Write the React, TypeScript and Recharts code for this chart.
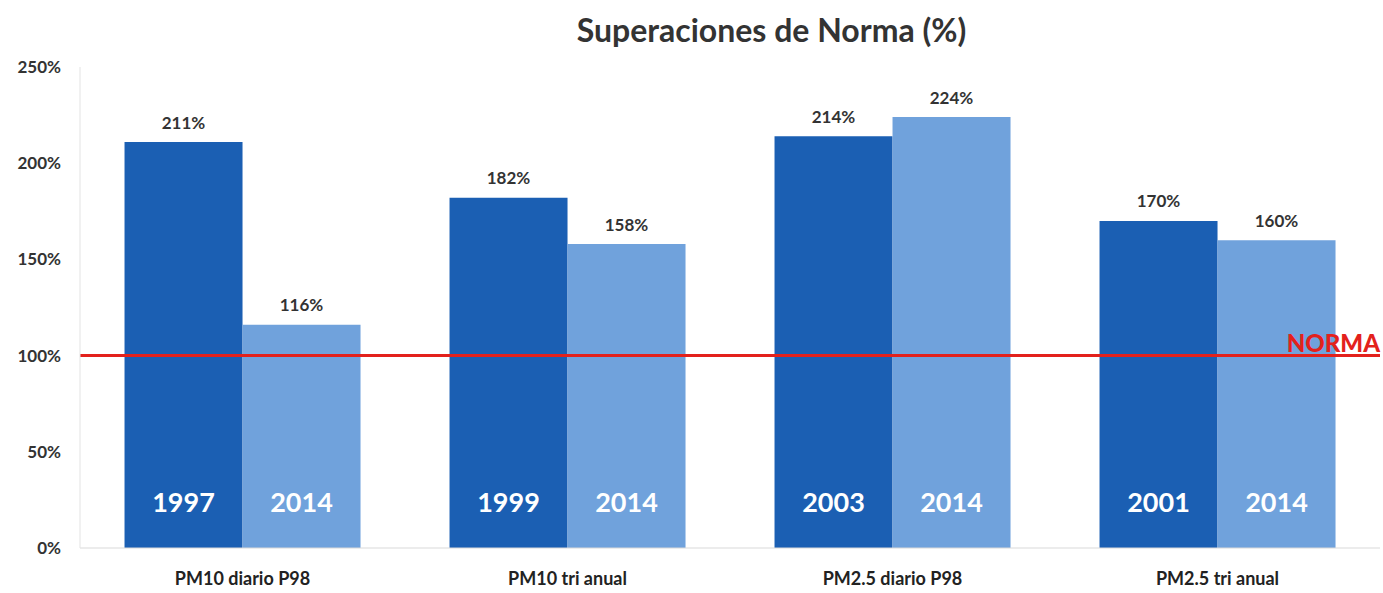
import React from "react";
import { BarChart, Bar, XAxis, YAxis, ReferenceLine, LabelList } from "recharts";

const categories = ["PM10 diario P98", "PM10  tri anual", "PM2.5 diario P98", "PM2.5  tri anual"];
const firstValues = [211, 182, 214, 170];
const recentValues = [116, 158, 224, 160];
const firstYears = ["1997", "1999", "2003", "2001"];
const recentYears = ["2014", "2014", "2014", "2014"];
const yTicks = [0, 50, 100, 150, 200, 250];
const normaValue = 100;

const data = categories.map((c, i) => ({
  name: c,
  first: firstValues[i],
  recent: recentValues[i],
  firstYear: firstYears[i],
  recentYear: recentYears[i],
}));

const FONT = "Lato, 'Open Sans', sans-serif";

const YearLabel = (props: any) => {
  const { x, y, width, height, value } = props;
  return (
    <text
      x={x + width / 2}
      y={y + height - 47}
      textAnchor="middle"
      dominantBaseline="central"
      fill="#ffffff"
      fontFamily={FONT}
      fontWeight={700}
      fontSize={27}
    >
      {value}
    </text>
  );
};

const TopLabel = (props: any) => {
  const { x, y, width, value } = props;
  return (
    <text
      x={x + width / 2}
      y={y - 20}
      textAnchor="middle"
      dominantBaseline="central"
      fill="#333333"
      fontFamily={FONT}
      fontWeight={700}
      fontSize={17}
    >
      {value}%
    </text>
  );
};

const NormaLabel = (props: any) => {
  const { viewBox } = props;
  return (
    <text
      x={viewBox.x + viewBox.width}
      y={viewBox.y - 13}
      textAnchor="end"
      dominantBaseline="central"
      fill="#e3211c"
      fontFamily={FONT}
      fontWeight={900}
      fontSize={24}
    >
      NORMA
    </text>
  );
};

export default function App() {
  return (
    <div style={{ position: "absolute", left: 0, top: 0, width: 1383, height: 593, background: "#fff" }}>
      <div
        style={{
          position: "absolute",
          left: 0,
          top: 10,
          width: 1383,
          paddingLeft: 160,
          boxSizing: "border-box",
          textAlign: "center",
          fontFamily: FONT,
          fontWeight: 700,
          fontSize: 32,
          color: "#333",
        }}
      >
        Superaciones de Norma (%)
      </div>
      <BarChart
        width={1383}
        height={593}
        data={data}
        margin={{ top: 67, right: 3, bottom: 0, left: 0 }}
        barGap={0}
        barCategoryGap="13.7%"
      >
        <XAxis
          dataKey="name"
          height={45}
          axisLine={{ stroke: "#d9d9d9" }}
          tickLine={false}
          tickMargin={18}
          tick={{ fill: "#222", fontFamily: FONT, fontWeight: 700, fontSize: 18 }}
        />
        <YAxis
          width={80}
          domain={[0, 250]}
          ticks={yTicks}
          tickFormatter={(v: number) => `${v}%`}
          axisLine={{ stroke: "#e3e3e3" }}
          tickLine={false}
          tickMargin={13}
          tick={{ fill: "#333", fontFamily: FONT, fontWeight: 700, fontSize: 17 }}
        />
        <Bar dataKey="first" fill="#1b5fb3" isAnimationActive={false}>
          <LabelList dataKey="firstYear" content={YearLabel} />
          <LabelList dataKey="first" content={TopLabel} />
        </Bar>
        <Bar dataKey="recent" fill="#70a2dc" isAnimationActive={false}>
          <LabelList dataKey="recentYear" content={YearLabel} />
          <LabelList dataKey="recent" content={TopLabel} />
        </Bar>
        <ReferenceLine y={normaValue} stroke="#e3211c" strokeWidth={3} label={NormaLabel} />
      </BarChart>
    </div>
  );
}
